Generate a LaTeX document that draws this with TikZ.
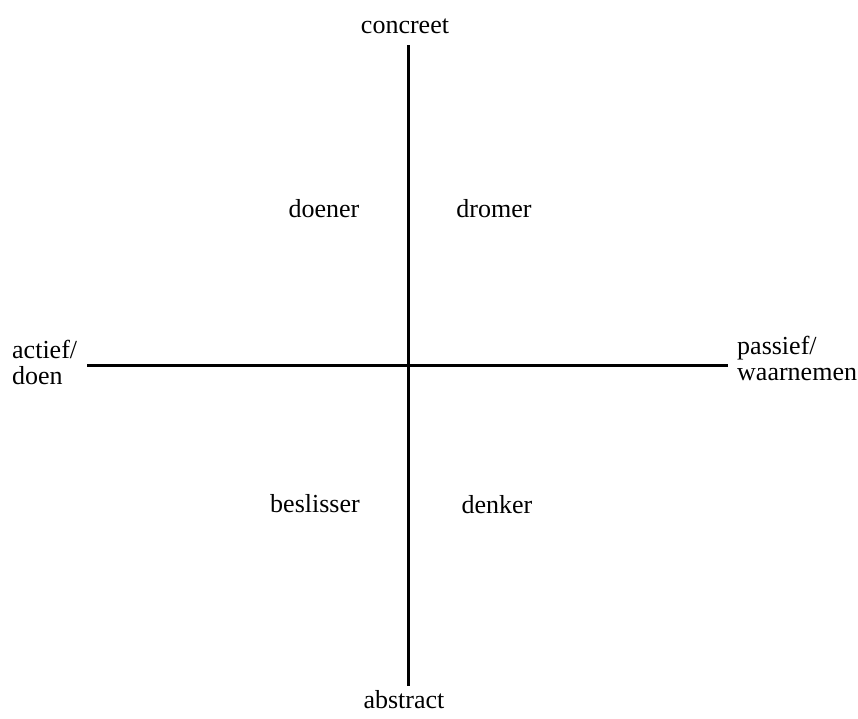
\documentclass[tikz,border=0pt]{standalone}
\usepackage{fontspec}
\setmainfont{Liberation Serif}
\begin{document}
\begin{tikzpicture}[x=1pt,y=-1pt,
  lbl/.style={inner sep=0pt, font=\fontsize{26}{26}\selectfont},
  axis/.style={line width=3pt, draw=black}]
\useasboundingbox (0,0) rectangle (858,718);
\node[lbl, anchor=base] (concreet) at (405,33) {concreet};
\node[lbl, anchor=base] (abstract) at (404,708) {abstract};
\node[lbl, anchor=base] (doener) at (324,217) {doener};
\node[lbl, anchor=base] (dromer) at (494,217) {dromer};
\node[lbl, anchor=base] (beslisser) at (315,512) {beslisser};
\node[lbl, anchor=base] (denker) at (497,513) {denker};
\node[lbl, anchor=base west, align=left] (actief) at (12,384) {actief/\\doen};
\node[lbl, anchor=base west, align=left] (passief) at (737,380) {passief/\\waarnemen};
\coordinate (vtop) at (408,45);
\coordinate (vbot) at (408,686);
\coordinate (hleft) at (87,365);
\coordinate (hright) at (728,365);
\draw[axis] (vtop) -- (vbot);
\draw[axis] (hleft) -- (hright);
\end{tikzpicture}
\end{document}
